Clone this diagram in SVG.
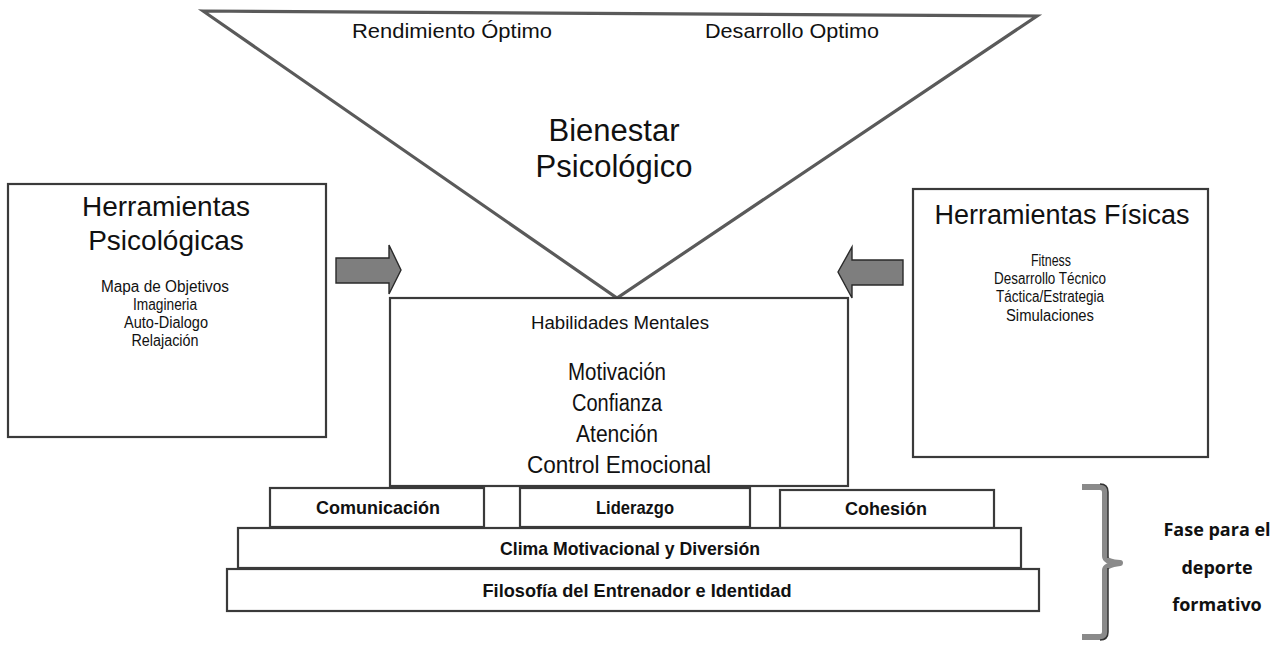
<svg xmlns="http://www.w3.org/2000/svg" width="1286" height="648" viewBox="0 0 1286 648">
<defs>
<style>
.box{fill:#fff;stroke:#3a3a3a;stroke-width:2.2}
.tri{fill:#fff;stroke:#5a5a5a;stroke-width:3.2;stroke-linejoin:miter}
.arrow{fill:#7e7e7e;stroke:#2a2a2a;stroke-width:1.4}
.brace{fill:none;stroke:#8a8a8a;stroke-width:6;stroke-linejoin:round}
.brace2{fill:none;stroke:#333;stroke-width:1.5}
.t{font-family:"Liberation Sans",Arial,sans-serif;fill:#111;text-anchor:middle}
.tb{font-family:"Liberation Sans",Arial,sans-serif;font-weight:bold;fill:#111;text-anchor:middle;font-size:19px}
.li{font-size:16px}
.side{font-family:"Open Sans","Noto Sans",sans-serif;font-weight:bold;fill:#111;text-anchor:middle;font-size:18px}
</style>
</defs>
<rect width="1286" height="648" fill="#fff"/>

<g id="bienestar">
<polygon class="tri" points="203,11 1037,16 617,298"/>
<text class="t" x="452" y="38" font-size="21" textLength="200" lengthAdjust="spacingAndGlyphs">Rendimiento Óptimo</text>
<text class="t" x="792" y="38" font-size="21" textLength="174" lengthAdjust="spacingAndGlyphs">Desarrollo Optimo</text>
<text class="t" x="614" y="141" font-size="31">Bienestar</text>
<text class="t" x="614" y="177" font-size="31">Psicológico</text>
</g>

<g id="herramientas-psicologicas">
<rect class="box" x="8" y="184" width="318" height="253"/>
<text class="t" x="166" y="216" font-size="28">Herramientas</text>
<text class="t" x="166" y="250" font-size="28">Psicológicas</text>
<text class="t li" x="165" y="292" textLength="128" lengthAdjust="spacingAndGlyphs">Mapa de Objetivos</text>
<text class="t li" x="165" y="310" textLength="64" lengthAdjust="spacingAndGlyphs">Imagineria</text>
<text class="t li" x="166" y="328" textLength="84" lengthAdjust="spacingAndGlyphs">Auto-Dialogo</text>
<text class="t li" x="165" y="346" textLength="67" lengthAdjust="spacingAndGlyphs">Relajación</text>
</g>

<g id="herramientas-fisicas">
<rect class="box" x="913" y="189" width="295" height="268"/>
<text class="t" x="1062" y="224" font-size="27">Herramientas Físicas</text>
<text class="t li" x="1051" y="266" textLength="40" lengthAdjust="spacingAndGlyphs">Fitness</text>
<text class="t li" x="1050" y="284" textLength="112" lengthAdjust="spacingAndGlyphs">Desarrollo Técnico</text>
<text class="t li" x="1050" y="302" textLength="108" lengthAdjust="spacingAndGlyphs">Táctica/Estrategia</text>
<text class="t li" x="1050" y="321" textLength="88" lengthAdjust="spacingAndGlyphs">Simulaciones</text>
</g>

<g id="habilidades-mentales">
<rect class="box" x="390" y="298" width="458" height="188"/>
<text class="t" x="620" y="329" font-size="17.5" textLength="178" lengthAdjust="spacingAndGlyphs">Habilidades Mentales</text>
<text class="t" x="617" y="380" font-size="23" textLength="98" lengthAdjust="spacingAndGlyphs">Motivación</text>
<text class="t" x="617" y="411" font-size="23" textLength="90" lengthAdjust="spacingAndGlyphs">Confianza</text>
<text class="t" x="617" y="442" font-size="23" textLength="82" lengthAdjust="spacingAndGlyphs">Atención</text>
<text class="t" x="619" y="473" font-size="23" textLength="184" lengthAdjust="spacingAndGlyphs">Control Emocional</text>
</g>

<g id="comunicacion">
<rect class="box" x="270" y="488" width="214" height="39"/>
<text class="tb" x="378" y="514" textLength="124" lengthAdjust="spacingAndGlyphs">Comunicación</text>
</g>
<g id="liderazgo">
<rect class="box" x="520" y="488" width="230" height="39"/>
<text class="tb" x="635" y="514" textLength="78" lengthAdjust="spacingAndGlyphs">Liderazgo</text>
</g>
<g id="cohesion">
<rect class="box" x="780" y="490" width="214" height="38"/>
<text class="tb" x="886" y="515" textLength="82" lengthAdjust="spacingAndGlyphs">Cohesión</text>
</g>
<g id="clima">
<rect class="box" x="238" y="528" width="783" height="40"/>
<text class="tb" x="630" y="555" textLength="260" lengthAdjust="spacingAndGlyphs">Clima Motivacional y Diversión</text>
</g>
<g id="filosofia">
<rect class="box" x="227" y="569" width="812" height="42"/>
<text class="tb" x="637" y="597" textLength="309" lengthAdjust="spacingAndGlyphs">Filosofía del Entrenador e Identidad</text>
</g>

<g id="fase">
<text class="side" x="1217" y="536">Fase para el</text>
<text class="side" x="1217" y="574">deporte</text>
<text class="side" x="1217" y="611">formativo</text>
</g>

<g id="connectors">
<polygon class="arrow" points="336,258 389,258 389,245 401,270 389,294 389,283 336,283"/>
<polygon class="arrow" points="903,260 852,260 852,247 838,272 852,298 852,285 903,285"/>
<path class="brace" d="M1082,487 L1100,487 Q1105,487 1105,492 L1105,556 Q1105,562 1120,563 Q1105,565 1105,570 L1105,632 Q1105,637 1100,637 L1082,637"/>
<path class="brace2" d="M1100,484 Q1108,484 1108,492 L1108,558 M1108,568 L1108,632 Q1108,640 1100,640"/>
</g>
</svg>
